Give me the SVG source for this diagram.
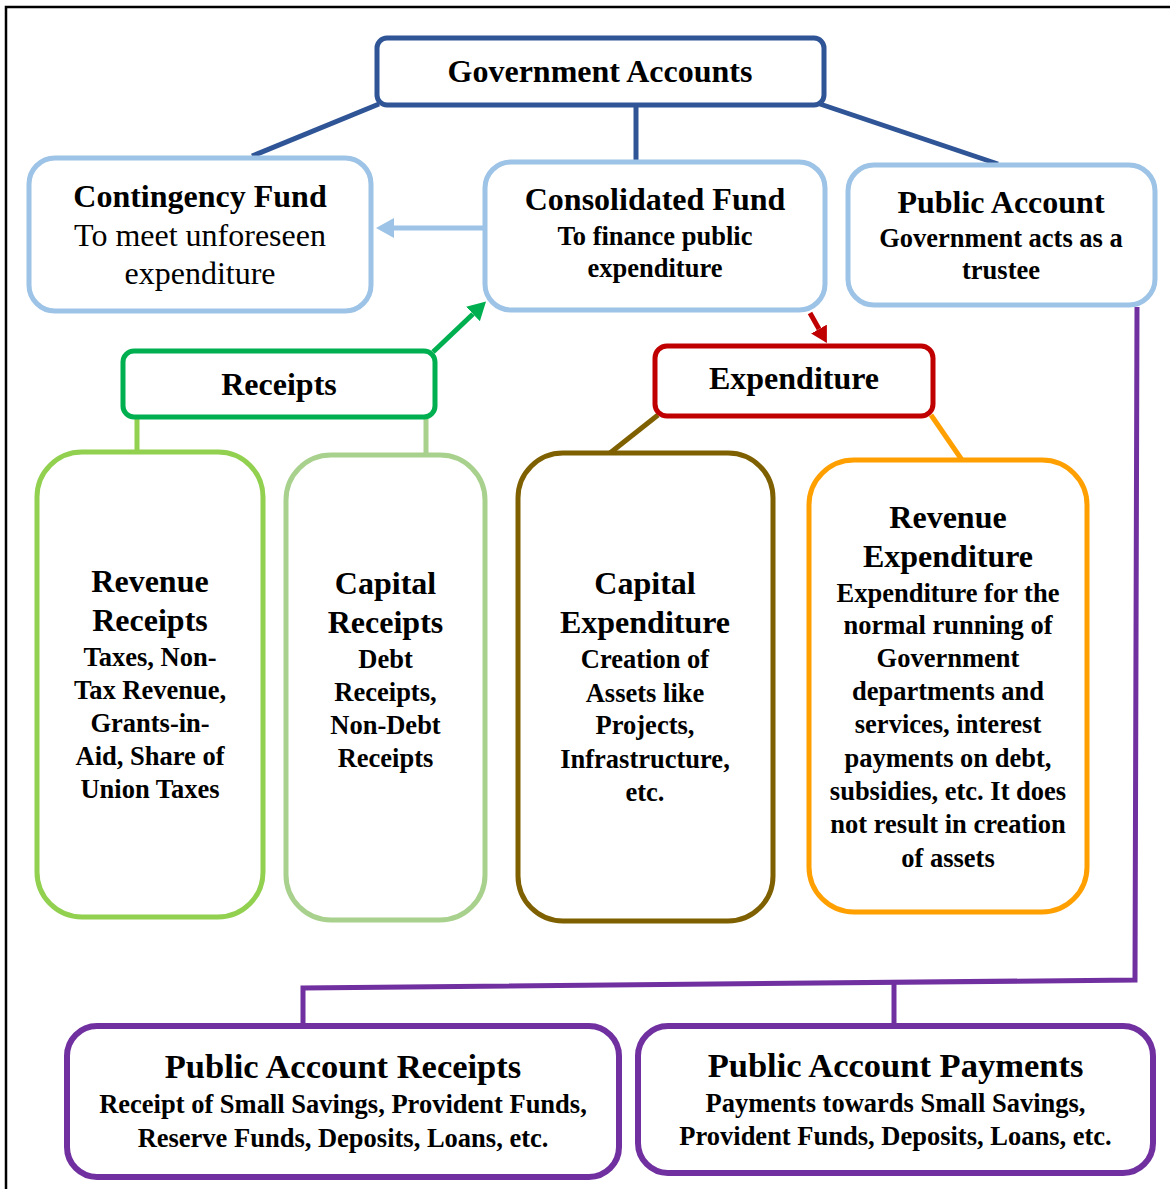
<svg xmlns="http://www.w3.org/2000/svg" width="1170" height="1189" viewBox="0 0 1170 1189">
<style>
text{font-family:"Liberation Serif","Times New Roman",serif;fill:#000;text-anchor:middle;font-weight:bold}
.t{font-size:32px}
.s{font-size:26.5px}
.r{font-size:32px;font-weight:normal}
.b{font-size:34.5px}
.box{fill:#fff}
.conn{fill:none;stroke-width:5}
</style>
<defs>
<marker id="aBlue" markerUnits="userSpaceOnUse" markerWidth="20" markerHeight="22" refX="0" refY="10" orient="auto"><path d="M0,0 L18,10 L0,20 z" fill="#9DC3E6"/></marker>
<marker id="aGreen" markerUnits="userSpaceOnUse" markerWidth="20" markerHeight="22" refX="0" refY="10" orient="auto"><path d="M0,0 L18,10 L0,20 z" fill="#00B050"/></marker>
<marker id="aRed" markerUnits="userSpaceOnUse" markerWidth="20" markerHeight="22" refX="0" refY="9" orient="auto"><path d="M0,0 L16,9 L0,18 z" fill="#C00000"/></marker>
</defs>
<rect x="6" y="7" width="1180" height="1200" fill="#fff" stroke="#000" stroke-width="2.5"/>
<g id="connectors">
<line class="conn" x1="379" y1="104" x2="252" y2="156" stroke="#2F5597"/>
<line class="conn" x1="636" y1="105" x2="636" y2="162" stroke="#2F5597"/>
<line class="conn" x1="820" y1="104" x2="998" y2="164" stroke="#2F5597"/>
<line class="conn" x1="485" y1="228" x2="394" y2="228" stroke="#9DC3E6" marker-end="url(#aBlue)"/>
<line class="conn" x1="433" y1="352" x2="473" y2="314" stroke="#00B050" marker-end="url(#aGreen)"/>
<line class="conn" x1="810" y1="313" x2="819" y2="329" stroke="#C00000" marker-end="url(#aRed)"/>
<line class="conn" x1="137" y1="418" x2="137" y2="452" stroke="#92D050"/>
<line class="conn" x1="426" y1="418" x2="426" y2="455" stroke="#A9D18E"/>
<line class="conn" x1="658" y1="415" x2="610" y2="453" stroke="#7F6000"/>
<line class="conn" x1="931" y1="415" x2="962" y2="460" stroke="#FFA000"/>
<path class="conn" d="M1137,307 L1135,980 L303,988 L303,1025" stroke="#7030A0"/>
<line class="conn" x1="894" y1="982" x2="894" y2="1025" stroke="#7030A0"/>
</g>
<g id="government-accounts">
<rect class="box" x="377" y="38" width="447" height="67" rx="10" stroke="#2F5597" stroke-width="5"/>
<text class="t" x="600" y="82">Government Accounts</text>
</g>
<g id="contingency-fund">
<rect class="box" x="29" y="158" width="342" height="153" rx="26" stroke="#9DC3E6" stroke-width="5"/>
<text class="t" x="200" y="207">Contingency Fund</text>
<text class="r" x="200" y="246">To meet unforeseen</text>
<text class="r" x="200" y="284">expenditure</text>
</g>
<g id="consolidated-fund">
<rect class="box" x="485" y="162" width="340" height="148" rx="26" stroke="#9DC3E6" stroke-width="5"/>
<text class="t" x="655" y="210">Consolidated Fund</text>
<text class="s" x="655" y="245">To finance public</text>
<text class="s" x="655" y="277">expenditure</text>
</g>
<g id="public-account">
<rect class="box" x="848" y="165" width="307" height="140" rx="26" stroke="#9DC3E6" stroke-width="5"/>
<text class="t" x="1001" y="213">Public Account</text>
<text class="s" x="1001" y="247">Government acts as a</text>
<text class="s" x="1001" y="279">trustee</text>
</g>
<g id="receipts">
<rect class="box" x="123" y="351" width="312" height="66" rx="11" stroke="#00B050" stroke-width="5"/>
<text class="t" x="279" y="395">Receipts</text>
</g>
<g id="expenditure">
<rect class="box" x="655" y="346" width="278" height="70" rx="12" stroke="#C00000" stroke-width="5"/>
<text class="t" x="794" y="389">Expenditure</text>
</g>
<g id="revenue-receipts">
<rect class="box" x="37" y="452" width="226" height="465" rx="45" stroke="#92D050" stroke-width="5"/>
<text class="t" x="150" y="592">Revenue</text>
<text class="t" x="150" y="631">Receipts</text>
<text class="s" x="150" y="666">Taxes, Non-</text>
<text class="s" x="150" y="699">Tax Revenue,</text>
<text class="s" x="150" y="732">Grants-in-</text>
<text class="s" x="150" y="765">Aid, Share of</text>
<text class="s" x="150" y="798">Union Taxes</text>
</g>
<g id="capital-receipts">
<rect class="box" x="286" y="455" width="199" height="465" rx="45" stroke="#A9D18E" stroke-width="5"/>
<text class="t" x="385.5" y="594">Capital</text>
<text class="t" x="385.5" y="633">Receipts</text>
<text class="s" x="385.5" y="668">Debt</text>
<text class="s" x="385.5" y="701">Receipts,</text>
<text class="s" x="385.5" y="734">Non-Debt</text>
<text class="s" x="385.5" y="767">Receipts</text>
</g>
<g id="capital-expenditure">
<rect class="box" x="518" y="453" width="255" height="468" rx="45" stroke="#7F6000" stroke-width="5"/>
<text class="t" x="645" y="594">Capital</text>
<text class="t" x="645" y="633">Expenditure</text>
<text class="s" x="645" y="668">Creation of</text>
<text class="s" x="645" y="702">Assets like</text>
<text class="s" x="645" y="734">Projects,</text>
<text class="s" x="645" y="768">Infrastructure,</text>
<text class="s" x="645" y="801">etc.</text>
</g>
<g id="revenue-expenditure">
<rect class="box" x="809" y="460" width="278" height="452" rx="45" stroke="#FFA000" stroke-width="5"/>
<text class="t" x="948" y="528">Revenue</text>
<text class="t" x="948" y="567">Expenditure</text>
<text class="s" x="948" y="602">Expenditure for the</text>
<text class="s" x="948" y="634">normal running of</text>
<text class="s" x="948" y="667">Government</text>
<text class="s" x="948" y="700">departments and</text>
<text class="s" x="948" y="733">services, interest</text>
<text class="s" x="948" y="767">payments on debt,</text>
<text class="s" x="948" y="800">subsidies, etc. It does</text>
<text class="s" x="948" y="833">not result in creation</text>
<text class="s" x="948" y="867">of assets</text>
</g>
<g id="public-account-receipts">
<rect class="box" x="67" y="1026" width="552" height="151" rx="30" stroke="#7030A0" stroke-width="6"/>
<text class="b" x="343" y="1078">Public Account Receipts</text>
<text class="s" x="343" y="1113">Receipt of Small Savings, Provident Funds,</text>
<text class="s" x="343" y="1147">Reserve Funds, Deposits, Loans, etc.</text>
</g>
<g id="public-account-payments">
<rect class="box" x="638" y="1026" width="515" height="147" rx="30" stroke="#7030A0" stroke-width="6"/>
<text class="b" x="895.5" y="1077">Public Account Payments</text>
<text class="s" x="895.5" y="1112">Payments towards Small Savings,</text>
<text class="s" x="895.5" y="1145">Provident Funds, Deposits, Loans, etc.</text>
</g>
</svg>
